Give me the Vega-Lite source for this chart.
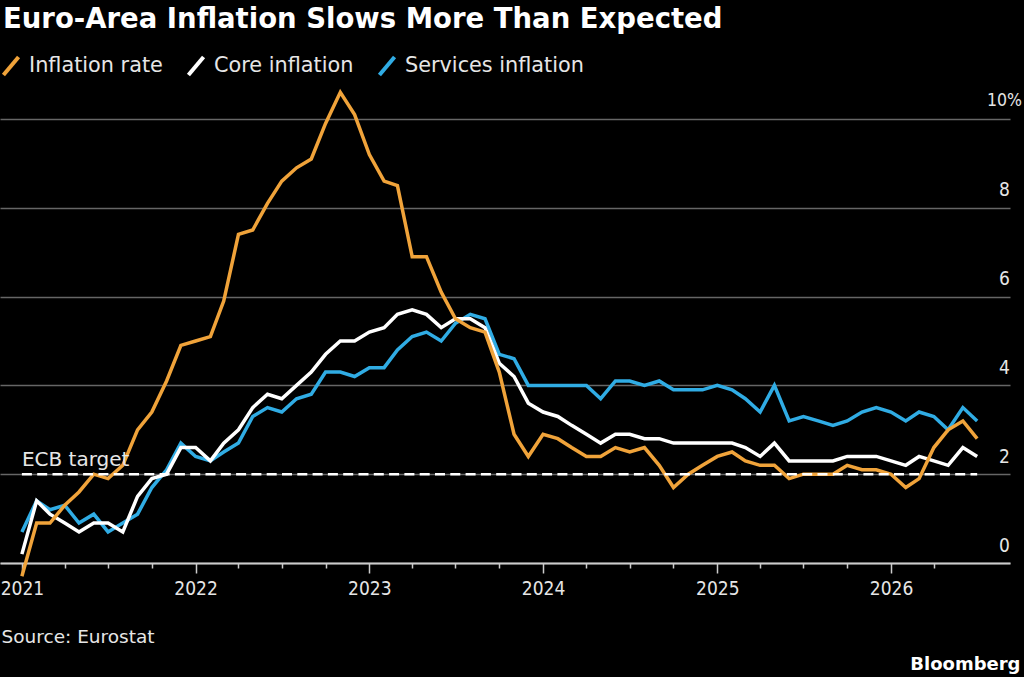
{
  "$schema": "https://vega.github.io/schema/vega-lite/v6.json",
  "background": "#000000",
  "width": 1010,
  "height": 483,
  "autosize": "none",
  "padding": {"left": 0, "top": 80, "right": 14, "bottom": 114},
  "title": {
    "text": "Euro-Area Inflation Slows More Than Expected",
    "anchor": "start",
    "frame": "group",
    "font": "DejaVu Sans",
    "fontWeight": "bold",
    "fontSize": 27.5,
    "color": "#ffffff",
    "baseline": "alphabetic",
    "offset": 0,
    "dx": 3
  },
  "config": {
    "view": {"stroke": null},
    "font": "DejaVu Sans"
  },
  "layer": [
    {
      "data": {
        "values": [
          {"date": "2021-01-01", "Inflation rate": -0.3, "Core inflation": 0.2, "Services inflation": 0.7},
          {"date": "2021-02-01", "Inflation rate": 0.9, "Core inflation": 1.4, "Services inflation": 1.4},
          {"date": "2021-03-01", "Inflation rate": 0.9, "Core inflation": 1.1, "Services inflation": 1.2},
          {"date": "2021-04-01", "Inflation rate": 1.3, "Core inflation": 0.9, "Services inflation": 1.3},
          {"date": "2021-05-01", "Inflation rate": 1.6, "Core inflation": 0.7, "Services inflation": 0.9},
          {"date": "2021-06-01", "Inflation rate": 2.0, "Core inflation": 0.9, "Services inflation": 1.1},
          {"date": "2021-07-01", "Inflation rate": 1.9, "Core inflation": 0.9, "Services inflation": 0.7},
          {"date": "2021-08-01", "Inflation rate": 2.2, "Core inflation": 0.7, "Services inflation": 0.9},
          {"date": "2021-09-01", "Inflation rate": 3.0, "Core inflation": 1.5, "Services inflation": 1.1},
          {"date": "2021-10-01", "Inflation rate": 3.4, "Core inflation": 1.9, "Services inflation": 1.7},
          {"date": "2021-11-01", "Inflation rate": 4.1, "Core inflation": 2.0, "Services inflation": 2.1},
          {"date": "2021-12-01", "Inflation rate": 4.9, "Core inflation": 2.6, "Services inflation": 2.7},
          {"date": "2022-01-01", "Inflation rate": 5.0, "Core inflation": 2.6, "Services inflation": 2.4},
          {"date": "2022-02-01", "Inflation rate": 5.1, "Core inflation": 2.3, "Services inflation": 2.3},
          {"date": "2022-03-01", "Inflation rate": 5.9, "Core inflation": 2.7, "Services inflation": 2.5},
          {"date": "2022-04-01", "Inflation rate": 7.4, "Core inflation": 3.0, "Services inflation": 2.7},
          {"date": "2022-05-01", "Inflation rate": 7.5, "Core inflation": 3.5, "Services inflation": 3.3},
          {"date": "2022-06-01", "Inflation rate": 8.1, "Core inflation": 3.8, "Services inflation": 3.5},
          {"date": "2022-07-01", "Inflation rate": 8.6, "Core inflation": 3.7, "Services inflation": 3.4},
          {"date": "2022-08-01", "Inflation rate": 8.9, "Core inflation": 4.0, "Services inflation": 3.7},
          {"date": "2022-09-01", "Inflation rate": 9.1, "Core inflation": 4.3, "Services inflation": 3.8},
          {"date": "2022-10-01", "Inflation rate": 9.9, "Core inflation": 4.7, "Services inflation": 4.3},
          {"date": "2022-11-01", "Inflation rate": 10.6, "Core inflation": 5.0, "Services inflation": 4.3},
          {"date": "2022-12-01", "Inflation rate": 10.1, "Core inflation": 5.0, "Services inflation": 4.2},
          {"date": "2023-01-01", "Inflation rate": 9.2, "Core inflation": 5.2, "Services inflation": 4.4},
          {"date": "2023-02-01", "Inflation rate": 8.6, "Core inflation": 5.3, "Services inflation": 4.4},
          {"date": "2023-03-01", "Inflation rate": 8.5, "Core inflation": 5.6, "Services inflation": 4.8},
          {"date": "2023-04-01", "Inflation rate": 6.9, "Core inflation": 5.7, "Services inflation": 5.1},
          {"date": "2023-05-01", "Inflation rate": 6.9, "Core inflation": 5.6, "Services inflation": 5.2},
          {"date": "2023-06-01", "Inflation rate": 6.1, "Core inflation": 5.3, "Services inflation": 5.0},
          {"date": "2023-07-01", "Inflation rate": 5.5, "Core inflation": 5.5, "Services inflation": 5.4},
          {"date": "2023-08-01", "Inflation rate": 5.3, "Core inflation": 5.5, "Services inflation": 5.6},
          {"date": "2023-09-01", "Inflation rate": 5.2, "Core inflation": 5.3, "Services inflation": 5.5},
          {"date": "2023-10-01", "Inflation rate": 4.3, "Core inflation": 4.5, "Services inflation": 4.7},
          {"date": "2023-11-01", "Inflation rate": 2.9, "Core inflation": 4.2, "Services inflation": 4.6},
          {"date": "2023-12-01", "Inflation rate": 2.4, "Core inflation": 3.6, "Services inflation": 4.0},
          {"date": "2024-01-01", "Inflation rate": 2.9, "Core inflation": 3.4, "Services inflation": 4.0},
          {"date": "2024-02-01", "Inflation rate": 2.8, "Core inflation": 3.3, "Services inflation": 4.0},
          {"date": "2024-03-01", "Inflation rate": 2.6, "Core inflation": 3.1, "Services inflation": 4.0},
          {"date": "2024-04-01", "Inflation rate": 2.4, "Core inflation": 2.9, "Services inflation": 4.0},
          {"date": "2024-05-01", "Inflation rate": 2.4, "Core inflation": 2.7, "Services inflation": 3.7},
          {"date": "2024-06-01", "Inflation rate": 2.6, "Core inflation": 2.9, "Services inflation": 4.1},
          {"date": "2024-07-01", "Inflation rate": 2.5, "Core inflation": 2.9, "Services inflation": 4.1},
          {"date": "2024-08-01", "Inflation rate": 2.6, "Core inflation": 2.8, "Services inflation": 4.0},
          {"date": "2024-09-01", "Inflation rate": 2.2, "Core inflation": 2.8, "Services inflation": 4.1},
          {"date": "2024-10-01", "Inflation rate": 1.7, "Core inflation": 2.7, "Services inflation": 3.9},
          {"date": "2024-11-01", "Inflation rate": 2.0, "Core inflation": 2.7, "Services inflation": 3.9},
          {"date": "2024-12-01", "Inflation rate": 2.2, "Core inflation": 2.7, "Services inflation": 3.9},
          {"date": "2025-01-01", "Inflation rate": 2.4, "Core inflation": 2.7, "Services inflation": 4.0},
          {"date": "2025-02-01", "Inflation rate": 2.5, "Core inflation": 2.7, "Services inflation": 3.9},
          {"date": "2025-03-01", "Inflation rate": 2.3, "Core inflation": 2.6, "Services inflation": 3.7},
          {"date": "2025-04-01", "Inflation rate": 2.2, "Core inflation": 2.4, "Services inflation": 3.4},
          {"date": "2025-05-01", "Inflation rate": 2.2, "Core inflation": 2.7, "Services inflation": 4.0},
          {"date": "2025-06-01", "Inflation rate": 1.9, "Core inflation": 2.3, "Services inflation": 3.2},
          {"date": "2025-07-01", "Inflation rate": 2.0, "Core inflation": 2.3, "Services inflation": 3.3},
          {"date": "2025-08-01", "Inflation rate": 2.0, "Core inflation": 2.3, "Services inflation": 3.2},
          {"date": "2025-09-01", "Inflation rate": 2.0, "Core inflation": 2.3, "Services inflation": 3.1},
          {"date": "2025-10-01", "Inflation rate": 2.2, "Core inflation": 2.4, "Services inflation": 3.2},
          {"date": "2025-11-01", "Inflation rate": 2.1, "Core inflation": 2.4, "Services inflation": 3.4},
          {"date": "2025-12-01", "Inflation rate": 2.1, "Core inflation": 2.4, "Services inflation": 3.5},
          {"date": "2026-01-01", "Inflation rate": 2.0, "Core inflation": 2.3, "Services inflation": 3.4},
          {"date": "2026-02-01", "Inflation rate": 1.7, "Core inflation": 2.2, "Services inflation": 3.2},
          {"date": "2026-03-01", "Inflation rate": 1.9, "Core inflation": 2.4, "Services inflation": 3.4},
          {"date": "2026-04-01", "Inflation rate": 2.6, "Core inflation": 2.3, "Services inflation": 3.3},
          {"date": "2026-05-01", "Inflation rate": 3.0, "Core inflation": 2.2, "Services inflation": 3.0},
          {"date": "2026-06-01", "Inflation rate": 3.2, "Core inflation": 2.6, "Services inflation": 3.5},
          {"date": "2026-07-01", "Inflation rate": 2.8, "Core inflation": 2.4, "Services inflation": 3.2}
        ]
      },
      "transform": [
        {"fold": ["Services inflation", "Core inflation", "Inflation rate"], "as": ["series", "value"]}
      ],
      "mark": {"type": "line", "strokeWidth": 3.5, "strokeJoin": "miter", "clip": false},
      "encoding": {
        "x": {
          "field": "date",
          "type": "temporal",
          "scale": {"type": "utc", "domain": ["2020-11-16", "2026-09-08"]},
          "axis": {
            "values": [
              {"year": 2021, "month": 1, "utc": true}, {"year": 2021, "month": 4, "utc": true}, {"year": 2021, "month": 7, "utc": true}, {"year": 2021, "month": 10, "utc": true},
              {"year": 2022, "month": 1, "utc": true}, {"year": 2022, "month": 4, "utc": true}, {"year": 2022, "month": 7, "utc": true}, {"year": 2022, "month": 10, "utc": true},
              {"year": 2023, "month": 1, "utc": true}, {"year": 2023, "month": 4, "utc": true}, {"year": 2023, "month": 7, "utc": true}, {"year": 2023, "month": 10, "utc": true},
              {"year": 2024, "month": 1, "utc": true}, {"year": 2024, "month": 4, "utc": true}, {"year": 2024, "month": 7, "utc": true}, {"year": 2024, "month": 10, "utc": true},
              {"year": 2025, "month": 1, "utc": true}, {"year": 2025, "month": 4, "utc": true}, {"year": 2025, "month": 7, "utc": true}, {"year": 2025, "month": 10, "utc": true},
              {"year": 2026, "month": 1, "utc": true}, {"year": 2026, "month": 4, "utc": true}
            ],
            "labelExpr": "utcmonth(datum.value) == 0 ? utcFormat(datum.value, '%Y') : ''",
            "labelOverlap": false,
            "labelFlush": false,
            "labelFont": "DejaVu Sans Condensed",
            "labelFontSize": 19,
            "labelColor": "#e6e6e6",
            "labelPadding": 6,
            "domainColor": "#cccccc",
            "domainWidth": 2,
            "tickColor": "#cccccc",
            "tickWidth": 1.5,
            "tickSize": {"condition": {"test": "utcmonth(datum.value) == 0", "value": 10}, "value": 5},
            "grid": false,
            "title": "Source: Eurostat",
            "titleFont": "DejaVu Sans",
            "titleFontWeight": "normal",
            "titleFontSize": 18.5,
            "titleColor": "#e6e6e6",
            "titleAlign": "left",
            "titleBaseline": "alphabetic",
            "titleX": 1,
            "titleY": 79
          }
        },
        "y": {
          "field": "value",
          "type": "quantitative",
          "scale": {"domain": [0, 10.878], "nice": false, "zero": false},
          "axis": {
            "orient": "right",
            "values": [0, 2, 4, 6, 8, 10],
            "labelExpr": "datum.value == 10 ? '10%' : datum.label",
            "labelAlign": "center",
            "labelBaseline": "middle",
            "labelOffset": -18,
            "labelPadding": -6,
            "labelFont": "DejaVu Sans Condensed",
            "labelFontSize": {"condition": {"test": "datum.value == 10", "value": 17.5}, "value": 19},
            "labelColor": "#e6e6e6",
            "domain": false,
            "ticks": false,
            "grid": true,
            "gridColor": "#666666",
            "gridWidth": 1.5,
            "title": "Bloomberg",
            "titleFont": "DejaVu Sans",
            "titleFontWeight": "bold",
            "titleFontSize": 18,
            "titleColor": "#ffffff",
            "titleAngle": 0,
            "titleAlign": "right",
            "titleBaseline": "alphabetic",
            "titleX": 10,
            "titleY": 589
          }
        },
        "color": {
          "field": "series",
          "type": "nominal",
          "scale": {
            "domain": ["Inflation rate", "Core inflation", "Services inflation"],
            "range": ["#f0a33a", "#ffffff", "#30ace4"]
          },
          "legend": {
            "orient": "none",
            "legendX": 0,
            "legendY": -25,
            "direction": "horizontal",
            "title": null,
            "symbolType": "M-0.84,1L0.84,-1",
            "symbolSize": 324,
            "symbolStrokeWidth": 4,
            "symbolOpacity": 1,
            "labelFont": "DejaVu Sans",
            "labelFontSize": 20.8,
            "labelLimit": 400,
            "labelColor": "#e6e6e6",
            "labelOffset": 7,
            "columnPadding": 17
          }
        }
      }
    },
    {
      "data": {
        "values": [
          {"date": "2021-01-01", "target": 2},
          {"date": "2026-07-01", "target": 2}
        ]
      },
      "mark": {"type": "line", "color": "#ffffff", "strokeWidth": 2.5, "strokeDash": [10, 5.3]},
      "encoding": {
        "x": {"field": "date", "type": "temporal"},
        "y": {"field": "target", "type": "quantitative"}
      }
    },
    {
      "data": {
        "values": [
          {"date": "2021-01-01", "target": 2, "label": "ECB target"}
        ]
      },
      "mark": {"type": "text", "align": "left", "baseline": "alphabetic", "dy": -8, "font": "DejaVu Sans", "fontSize": 20, "color": "#e6e6e6"},
      "encoding": {
        "x": {"field": "date", "type": "temporal"},
        "y": {"field": "target", "type": "quantitative"},
        "text": {"field": "label"}
      }
    }
  ]
}
